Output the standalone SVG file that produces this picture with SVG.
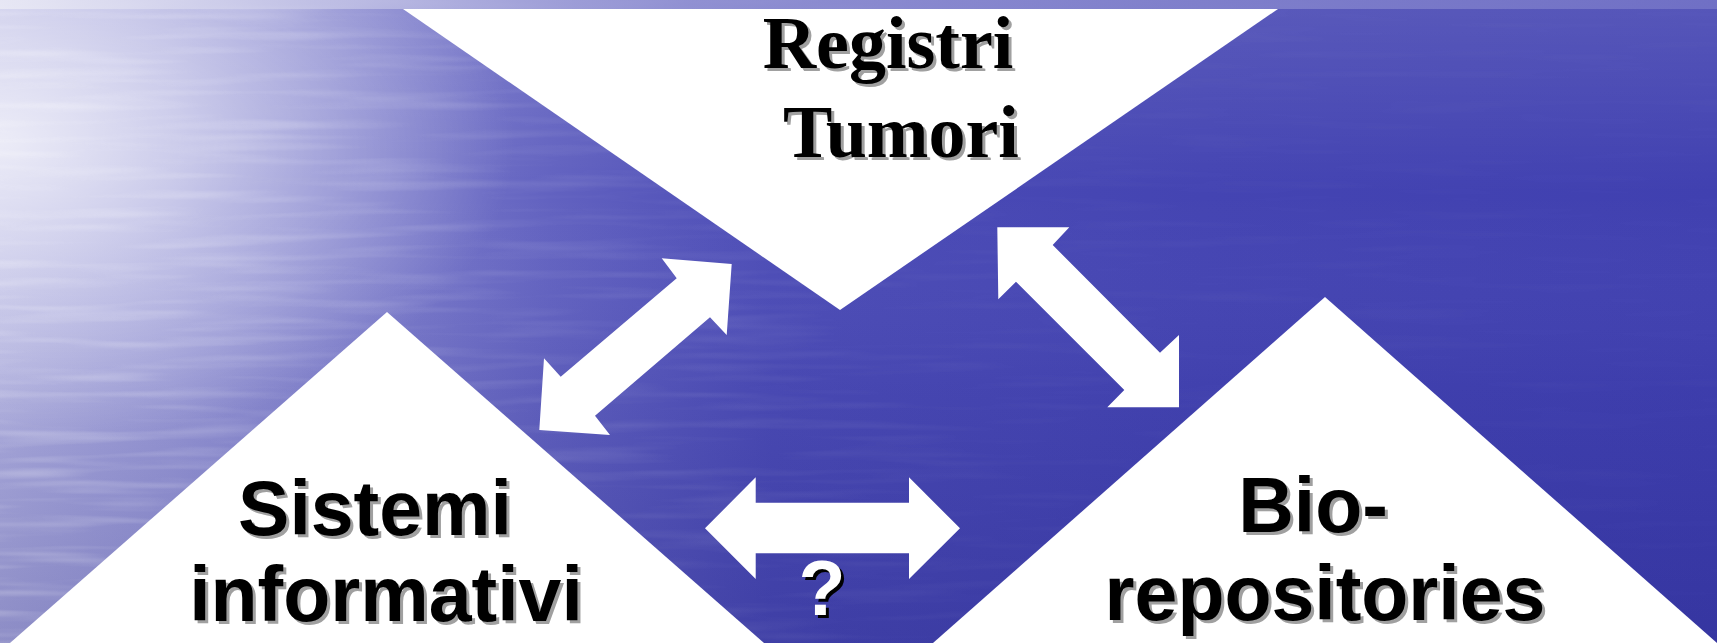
<svg xmlns="http://www.w3.org/2000/svg" width="1717" height="643" viewBox="0 0 1717 643">
  <defs>
    <linearGradient id="bg" x1="0" y1="0" x2="1" y2="0">
      <stop offset="0" stop-color="#b0b0e0"/>
      <stop offset="0.1" stop-color="#9c9cd8"/>
      <stop offset="0.2" stop-color="#8080cc"/>
      <stop offset="0.32" stop-color="#6262c0"/>
      <stop offset="0.45" stop-color="#4c4cb6"/>
      <stop offset="0.7" stop-color="#4444b2"/>
      <stop offset="1" stop-color="#4040b0"/>
    </linearGradient>
    <linearGradient id="vshade" x1="0" y1="0" x2="0" y2="1">
      <stop offset="0" stop-color="#ffffff" stop-opacity="0.12"/>
      <stop offset="0.3" stop-color="#ffffff" stop-opacity="0"/>
      <stop offset="0.6" stop-color="#10106a" stop-opacity="0.06"/>
      <stop offset="1" stop-color="#10106a" stop-opacity="0.22"/>
    </linearGradient>
    <radialGradient id="glow" cx="0" cy="0.22" r="0.3" fx="0" fy="0.22" gradientUnits="objectBoundingBox" gradientTransform="translate(0 0.22) scale(1 1.6) translate(0 -0.22)">
      <stop offset="0" stop-color="#ffffff" stop-opacity="0.75"/>
      <stop offset="0.5" stop-color="#ffffff" stop-opacity="0.35"/>
      <stop offset="1" stop-color="#ffffff" stop-opacity="0"/>
    </radialGradient>
    <filter id="water" x="0" y="0" width="1" height="1">
      <feTurbulence type="fractalNoise" baseFrequency="0.006 0.1" numOctaves="2" seed="5" result="n"/>
      <feColorMatrix type="matrix" values="0 0 0 0 1  0 0 0 0 1  0 0 0 0 1  0 0 0 1.2 -0.55"/>
    </filter>
    <linearGradient id="waterMaskH" x1="0" y1="0" x2="1" y2="0">
      <stop offset="0" stop-color="#fff" stop-opacity="0.9"/>
      <stop offset="0.3" stop-color="#fff" stop-opacity="0.35"/>
      <stop offset="0.6" stop-color="#fff" stop-opacity="0.1"/>
      <stop offset="1" stop-color="#fff" stop-opacity="0.05"/>
    </linearGradient>
    <mask id="wm">
      <rect width="1717" height="643" fill="url(#waterMaskH)"/>
    </mask>
    <linearGradient id="topband" x1="0" y1="0" x2="1" y2="0">
      <stop offset="0" stop-color="#ececf6"/>
      <stop offset="0.4" stop-color="#9a9ad6"/>
      <stop offset="1" stop-color="#7676c8"/>
    </linearGradient>
  </defs>
  <style>
    .tri { fill: #ffffff; }
    .arrow { fill: #ffffff; }
    .serif { font-family: "Liberation Serif", "Times New Roman", serif; font-weight: bold; font-size: 74px; text-anchor: middle; }
    .sans { font-family: "Liberation Sans", Arial, sans-serif; font-weight: bold; font-size: 77px; text-anchor: middle; }
    .shadow { fill: #a0a0a0; }
    .ink { fill: #000000; }
    .qshadow { fill: #000000; }
    .qink { fill: #ffffff; }
  </style>

  <!-- background -->
  <rect width="1717" height="643" fill="url(#bg)"/>
  <rect width="1717" height="643" fill="url(#vshade)"/>
  <rect width="1717" height="643" fill="url(#glow)"/>
  <rect width="1717" height="643" filter="url(#water)" mask="url(#wm)" opacity="0.6"/>
  <rect width="1717" height="9" fill="url(#topband)" opacity="0.8"/>

  <g id="node-registri-tumori">
    <polygon class="tri" points="403,9 1278,9 840,310"/>
    <text class="serif shadow" x="891" y="71">Registri</text>
    <text class="serif ink" x="888" y="68">Registri</text>
    <text class="serif shadow" x="904" y="160">Tumori</text>
    <text class="serif ink" x="901" y="157">Tumori</text>
  </g>

  <g id="node-sistemi-informativi">
    <polygon class="tri" points="387,312 764,643 10,643"/>
    <text class="sans shadow" x="378" y="538">Sistemi</text>
    <text class="sans ink" x="375" y="535">Sistemi</text>
    <text class="sans shadow" x="389" y="624">informativi</text>
    <text class="sans ink" x="386" y="621">informativi</text>
  </g>

  <g id="node-bio-repositories">
    <polygon class="tri" points="1325,297 1717,643 933,643"/>
    <text class="sans shadow" x="1316" y="535">Bio-</text>
    <text class="sans ink" x="1313" y="532">Bio-</text>
    <text class="sans shadow" x="1328" y="623">repositories</text>
    <text class="sans ink" x="1325" y="620">repositories</text>
  </g>

  <g id="connectors">
    <polygon class="arrow" points="731.7,264 661.7,258.3 676.7,278.3 560.7,376.7 544,358.3 539.3,430 610,435 595,415.7 710,317.3 726.7,335"/>
    <polygon class="arrow" points="997.3,227.3 1069.3,227.3 1052.7,245 1160,352.7 1179,335 1179,407.3 1107.3,407.3 1124.3,390 1016,281.7 998.3,299.3"/>
    <polygon class="arrow" points="705,528.3 755.7,477.3 755.7,502.7 909,502.7 909,477.3 960,528.3 909,579 909,553.3 755.7,553.3 755.7,579"/>
    <text class="sans qshadow" x="825" y="618">?</text>
    <text class="sans qink" x="822" y="615">?</text>
  </g>
</svg>
